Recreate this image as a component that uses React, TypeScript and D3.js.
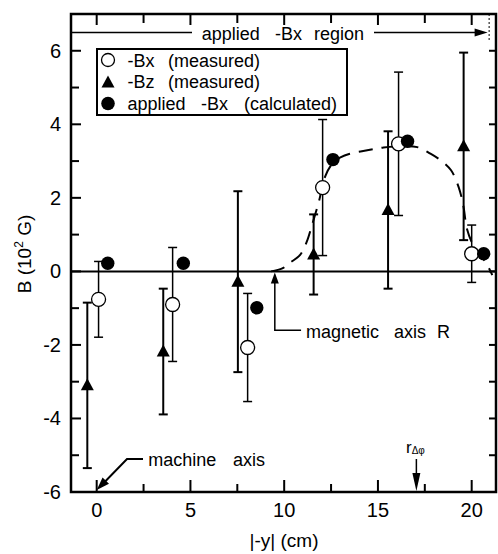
import React from "react";
import * as d3 from "d3";

// -Bx measured: [x, value, error]
const bxMeasured: [number, number, number][] = [
  [0.1, -0.76, 1.03],
  [4.05, -0.9, 1.55],
  [8.05, -2.07, 1.47],
  [12.05, 2.28, 1.85],
  [16.1, 3.47, 1.95],
  [20.0, 0.48, 0.78],
];
// -Bz measured: [x, value, error]
const bzMeasured: [number, number, number][] = [
  [-0.5, -3.1, 2.25],
  [3.55, -2.18, 1.71],
  [7.53, -0.28, 2.46],
  [11.57, 0.46, 1.09],
  [15.54, 1.67, 2.14],
  [19.57, 3.4, 2.55],
];
// applied -Bx calculated: [x, value]
const bxApplied: [number, number][] = [
  [0.59, 0.22],
  [4.62, 0.22],
  [8.54, -0.99],
  [12.6, 3.04],
  [16.58, 3.54],
  [20.64, 0.48],
];
// dashed profile curve
const curve: [number, number][] = [
  [9.3, 0.0], [9.9, 0.08], [10.3, 0.23], [10.85, 0.45], [11.2, 0.8],
  [11.45, 1.2], [11.85, 1.9], [12.2, 2.6], [12.6, 2.95], [13.0, 3.1],
  [13.5, 3.2], [14.5, 3.3], [15.3, 3.37], [16.2, 3.4], [17.1, 3.38],
  [17.8, 3.2], [18.4, 3.0], [18.9, 2.75], [19.3, 2.3], [19.55, 1.8],
  [19.75, 1.15], [20.05, 0.75], [20.4, 0.5], [20.8, 0.2], [21.1, -0.1],
];

const xMajor = [0, 5, 10, 15, 20];
const xMinor = [2.5, 7.5, 12.5, 17.5];
const yMajor = [-6, -4, -2, 0, 2, 4, 6];
const yMinor = [-5, -3, -1, 1, 3, 5];
const yRight = [-5, -4, -3, -2, -1, 0, 1, 2, 3, 4, 5, 6];

const regionY = 6.5;
const regionEndX = 20.85;
const magAxisX = 9.5;
const magAxisLabelY = -1.6;
const magAxisElbowX = 10.9;
const rdphiX = 17.05;

const FONT = "'Liberation Sans', Arial, Helvetica, sans-serif";

export default function App() {
  const W = 498, H = 554;
  const L = 71, R = 497, T = 14, B = 492;
  const x = d3.scaleLinear().domain([-1.37, 21.35]).range([L, R]);
  const y = d3.scaleLinear().domain([-6, 7]).range([B, T]);

  const line = d3.line<[number, number]>()
    .x((d) => x(d[0]))
    .y((d) => y(d[1]))
    .curve(d3.curveCatmullRom.alpha(0.5));

  const tri = (cx: number, cy: number, s = 1) =>
    `M${cx},${cy - 7 * s}L${cx - 6.5 * s},${cy + 5 * s}L${cx + 6.5 * s},${cy + 5 * s}Z`;

  const errBar = (d: [number, number, number], sw: number, key: string) => {
    const cx = x(d[0]);
    const y1 = y(d[1] + d[2]);
    const y2 = y(d[1] - d[2]);
    return (
      <g key={key} stroke="#000" strokeWidth={sw}>
        <line x1={cx} x2={cx} y1={y1} y2={y2} />
        <line x1={cx - 4.5} x2={cx + 4.5} y1={y1} y2={y1} />
        <line x1={cx - 4.5} x2={cx + 4.5} y1={y2} y2={y2} />
      </g>
    );
  };

  const head = (tx: number, ty: number, fx: number, fy: number, len = 12, hw = 4) => {
    const a = Math.atan2(ty - fy, tx - fx);
    const bx = tx - len * Math.cos(a), by = ty - len * Math.sin(a);
    const px = -Math.sin(a) * hw, py = Math.cos(a) * hw;
    return `M${tx},${ty}L${bx + px},${by + py}L${bx - px},${by - py}Z`;
  };

  const mx = x(magAxisX);
  const my0 = y(0);
  const myL = y(magAxisLabelY);
  const rx = x(rdphiX);

  return (
    <svg width={W} height={H} style={{ position: "absolute", left: 0, top: 0, background: "#fff" }} fontFamily={FONT}>
      <rect x={0} y={0} width={W} height={H} fill="#fff" />

      {/* ticks */}
      <g stroke="#000" strokeWidth={2}>
        {xMajor.map((v) => (
          <g key={"xm" + v}>
            <line x1={x(v)} x2={x(v)} y1={B} y2={B - 12} />
            <line x1={x(v)} x2={x(v)} y1={T} y2={T + 11} />
          </g>
        ))}
        {xMinor.map((v) => (
          <g key={"xn" + v}>
            <line x1={x(v)} x2={x(v)} y1={B} y2={B - 8} />
            <line x1={x(v)} x2={x(v)} y1={T} y2={T + 9} />
          </g>
        ))}
        {yMajor.map((v) => (
          <line key={"ym" + v} x1={L} x2={L + 10} y1={y(v)} y2={y(v)} />
        ))}
        {yMinor.map((v) => (
          <line key={"yn" + v} x1={L} x2={L + 8} y1={y(v)} y2={y(v)} />
        ))}
        {yRight.map((v) => (
          <line key={"yr" + v} x1={R} x2={R - 8} y1={y(v)} y2={y(v)} />
        ))}
      </g>

      {/* frame */}
      <rect x={L} y={T} width={R - L - 1} height={B - T} fill="none" stroke="#000" strokeWidth={2.5} />

      {/* zero line */}
      <line x1={L} x2={R} y1={y(0)} y2={y(0)} stroke="#000" strokeWidth={2} />

      {/* tick labels */}
      <g fontSize={20} fill="#000">
        {yMajor.map((v) => (
          <text key={"yl" + v} x={61} y={y(v) + 7} textAnchor="end">{v}</text>
        ))}
        {xMajor.map((v) => (
          <text key={"xl" + v} x={x(v)} y={517} textAnchor="middle">{v}</text>
        ))}
      </g>

      {/* axis titles */}
      <text x={284} y={547} fontSize={19} textAnchor="middle">|-y| (cm)</text>
      <text transform={`translate(31,254) rotate(-90)`} fontSize={19} textAnchor="middle">
        B (10<tspan fontSize={12} dy={-8}>2</tspan><tspan dy={8}> G)</tspan>
      </text>

      {/* applied -Bx region arrow */}
      <g stroke="#000" strokeWidth={1.5}>
        <line x1={L} x2={192} y1={y(regionY)} y2={y(regionY)} />
        <line x1={374} x2={x(regionEndX) - 8} y1={y(regionY)} y2={y(regionY)} />
        <line x1={x(regionEndX) + 1.5} x2={x(regionEndX) + 1.5} y1={T} y2={40} strokeDasharray="2 2" strokeWidth={1} />
      </g>
      <path d={head(x(regionEndX), y(regionY), L, y(regionY), 13, 4)} fill="#000" />
      <g fontSize={18}>
        <text x={201.7} y={40}>applied</text>
        <text x={275} y={40}>-Bx</text>
        <text x={314} y={40}>region</text>
      </g>

      {/* legend */}
      <rect x={97} y={49} width={250} height={66} fill="#fff" stroke="#000" strokeWidth={2} />
      <circle cx={108} cy={60} r={6.5} fill="#fff" stroke="#000" strokeWidth={1.3} />
      <path d={tri(108, 82.5)} fill="#000" />
      <circle cx={108} cy={103.5} r={6.8} fill="#000" />
      <g fontSize={18}>
        <text x={127.5} y={66.5}>-Bx</text>
        <text x={168} y={66.5}>(measured)</text>
        <text x={127.5} y={88}>-Bz</text>
        <text x={168} y={88}>(measured)</text>
        <text x={127.5} y={110}>applied</text>
        <text x={201} y={110}>-Bx</text>
        <text x={244} y={110}>(calculated)</text>
      </g>

      {/* dashed curve */}
      <path d={line(curve) || ""} fill="none" stroke="#000" strokeWidth={2} strokeDasharray="14 9" />

      {/* error bars */}
      {bxMeasured.map((d, i) => errBar(d, 1.5, "bxe" + i))}
      {bzMeasured.map((d, i) => errBar(d, 2, "bze" + i))}

      {/* markers */}
      {bzMeasured.map((d, i) => (
        <path key={"bz" + i} d={tri(x(d[0]), y(d[1]))} fill="#000" />
      ))}
      {bxMeasured.map((d, i) => (
        <circle key={"bx" + i} cx={x(d[0])} cy={y(d[1])} r={7} fill="#fff" stroke="#000" strokeWidth={1.3} />
      ))}
      {bxApplied.map((d, i) => (
        <circle key={"ba" + i} cx={x(d[0])} cy={y(d[1])} r={6.7} fill="#000" />
      ))}

      {/* magnetic axis R */}
      <g stroke="#000" strokeWidth={1.5} fill="none">
        <polyline points={`${mx},${my0 + 8} ${mx},${myL} ${x(magAxisElbowX)},${myL}`} />
      </g>
      <path d={head(mx, my0 + 1, mx, myL, 11, 4)} fill="#000" />
      <g fontSize={18}>
        <text x={306} y={337.5}>magnetic</text>
        <text x={394} y={337.5}>axis</text>
        <text x={437} y={337.5}>R</text>
      </g>

      {/* machine axis */}
      <g stroke="#000" strokeWidth={2} fill="none">
        <polyline points={`143,459 127,459 ${x(0) + 6},${y(-6) - 8}`} />
      </g>
      <path d={head(x(0), y(-6) - 2, 127, 459, 13, 4.5)} fill="#000" />
      <g fontSize={18}>
        <text x={148.3} y={465.5}>machine</text>
        <text x={233} y={465.5}>axis</text>
      </g>

      {/* r delta phi */}
      <line x1={rx} x2={rx} y1={459} y2={478} stroke="#000" strokeWidth={1.5} />
      <path d={head(rx, y(-6) - 1, rx, 459, 18, 4)} fill="#000" />
      <text x={406} y={453} fontSize={17}>
        r<tspan fontSize={10} dy={1}>Δφ</tspan>
      </text>
    </svg>
  );
}
